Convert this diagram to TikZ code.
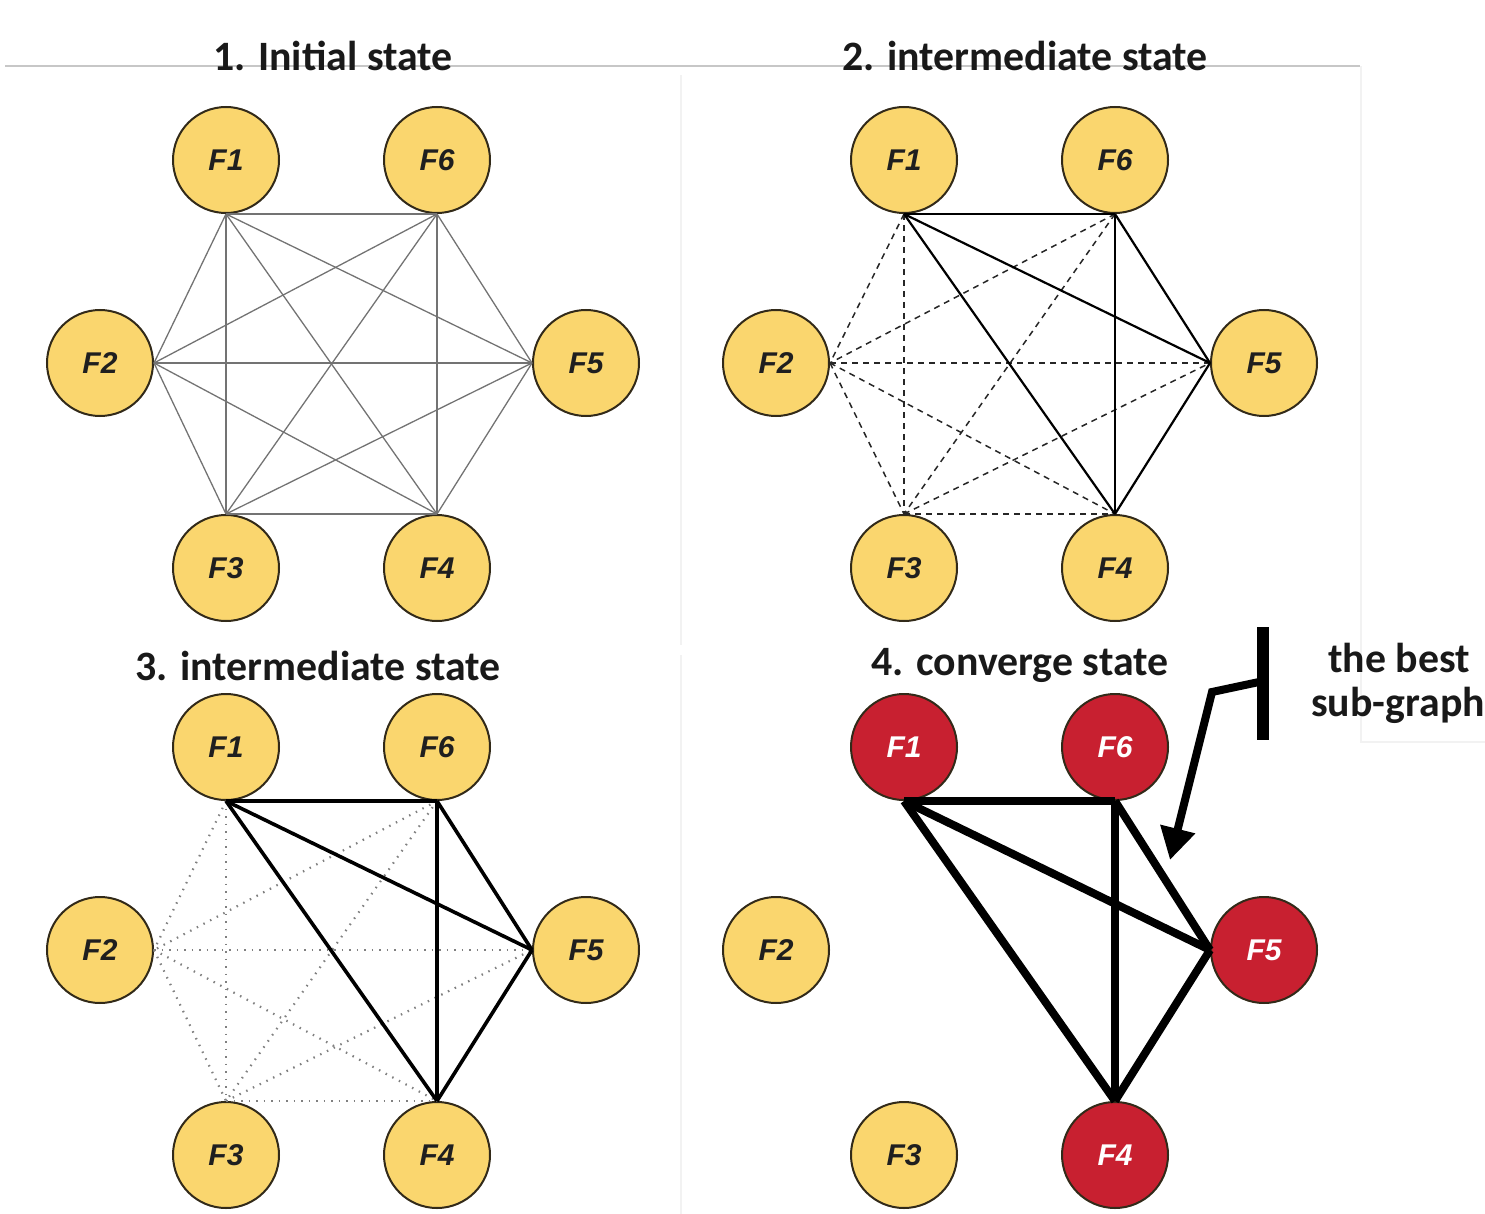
\documentclass[tikz,border=0pt]{standalone}
\usepackage{fontspec}
\setmainfont{Carlito}
\newfontfamily\nodefont{Liberation Sans}
\usetikzlibrary{arrows.meta}
\definecolor{nodeyellow}{RGB}{250,214,110}
\definecolor{nodered}{RGB}{200,32,48}
\definecolor{nodeline}{RGB}{50,42,25}
\begin{document}
\begin{tikzpicture}[x=1pt,y=-1pt,
  fnode/.style={circle,draw=nodeline,line width=2pt,fill=nodeyellow,minimum size=106pt,inner sep=0pt,
    font=\nodefont\bfseries\itshape\fontsize{30}{30}\selectfont,text=black!88},
  rnode/.style={fnode,fill=nodered,text=white},
  titletext/.style={font=\bfseries\fontsize{41.8}{48}\selectfont,anchor=base,text=black!90,inner sep=0pt},
  edgeA/.style={black!55,line width=1.3pt},
  edgeBsolid/.style={black,line width=2.2pt},
  edgeBdash/.style={black!85,line width=1.5pt,dash pattern=on 6pt off 5pt},
  edgeCsolid/.style={black,line width=3.6pt},
  edgeCdot/.style={black!50,line width=2.2pt,dash pattern=on 1.5pt off 6pt},
  edgeD/.style={black,line width=8pt},
  faint/.style={black!5,line width=2pt},
]
\useasboundingbox (0,0) rectangle (1485,1214);

% frame lines
\draw[black!22,line width=1.3pt] (5,66) -- (1360,66);
\draw[faint] (681,75) -- (681,645);
\draw[faint] (681,655) -- (681,1214);
\draw[faint] (1361,66) -- (1361,742) -- (1485,742);

% titles
\node[titletext] (t1) at (333,71) {1. Initial state};
\node[titletext] (t2) at (1025,71) {2. intermediate state};
\node[titletext] (t3) at (318,680) {3. intermediate state};
\node[titletext] (t4) at (1020,675) {4. converge state};
\node[titletext] (ann1) at (1399,672) {the best};
\node[titletext] (ann2) at (1398,716) {sub-graph};

% panel 1 nodes
\node[fnode] (p1F1) at (226,160) {F1};
\node[fnode] (p1F6) at (437,160) {F6};
\node[fnode] (p1F2) at (100,363) {F2};
\node[fnode] (p1F5) at (586,363) {F5};
\node[fnode] (p1F3) at (226,568) {F3};
\node[fnode] (p1F4) at (437,568) {F4};
% panel 2 nodes
\node[fnode] (p2F1) at (904,160) {F1};
\node[fnode] (p2F6) at (1115,160) {F6};
\node[fnode] (p2F2) at (776,363) {F2};
\node[fnode] (p2F5) at (1264,363) {F5};
\node[fnode] (p2F3) at (904,568) {F3};
\node[fnode] (p2F4) at (1115,568) {F4};
% panel 3 nodes
\node[fnode] (p3F1) at (226,747) {F1};
\node[fnode] (p3F6) at (437,747) {F6};
\node[fnode] (p3F2) at (100,950) {F2};
\node[fnode] (p3F5) at (586,950) {F5};
\node[fnode] (p3F3) at (226,1155) {F3};
\node[fnode] (p3F4) at (437,1155) {F4};
% panel 4 nodes
\node[rnode] (p4F1) at (904,747) {F1};
\node[rnode] (p4F6) at (1115,747) {F6};
\node[fnode] (p4F2) at (776,950) {F2};
\node[rnode] (p4F5) at (1264,950) {F5};
\node[fnode] (p4F3) at (904,1155) {F3};
\node[rnode] (p4F4) at (1115,1155) {F4};

% edges
\foreach \a/\b in {F1.south/F6.south, F1.south/F5.west, F1.south/F4.north,
                   F6.south/F5.west, F6.south/F4.north, F5.west/F4.north,
                   F1.south/F2.east, F1.south/F3.north, F6.south/F2.east,
                   F6.south/F3.north, F2.east/F5.west, F2.east/F3.north,
                   F2.east/F4.north, F3.north/F5.west, F3.north/F4.north}
  \draw[edgeA] (p1\a) -- (p1\b);
\foreach \a/\b in {F1.south/F2.east, F1.south/F3.north, F6.south/F2.east,
                   F6.south/F3.north, F2.east/F5.west, F2.east/F3.north,
                   F2.east/F4.north, F3.north/F5.west, F3.north/F4.north}
  {\draw[edgeBdash] (p2\a) -- (p2\b);
   \draw[edgeCdot] (p3\a) -- (p3\b);}
\foreach \a/\b in {F1.south/F6.south, F1.south/F5.west, F1.south/F4.north,
                   F6.south/F5.west, F6.south/F4.north, F5.west/F4.north}
  {\draw[edgeBsolid] (p2\a) -- (p2\b);
   \draw[edgeCsolid] (p3\a) -- (p3\b);
   \draw[edgeD] (p4\a) -- (p4\b);}

% annotation
\coordinate (barT) at (1263,627);
\coordinate (barB) at (1263,740);
\coordinate (barM) at (1259,682);
\coordinate (bend) at (1212,692);
\coordinate (tip) at (1170,860);
\draw[line width=12pt] (barT) -- (barB);
\draw[line width=8pt,-{Triangle[length=32pt,width=34pt]}] (barM) -- (bend) -- (tip);
\end{tikzpicture}
\end{document}
